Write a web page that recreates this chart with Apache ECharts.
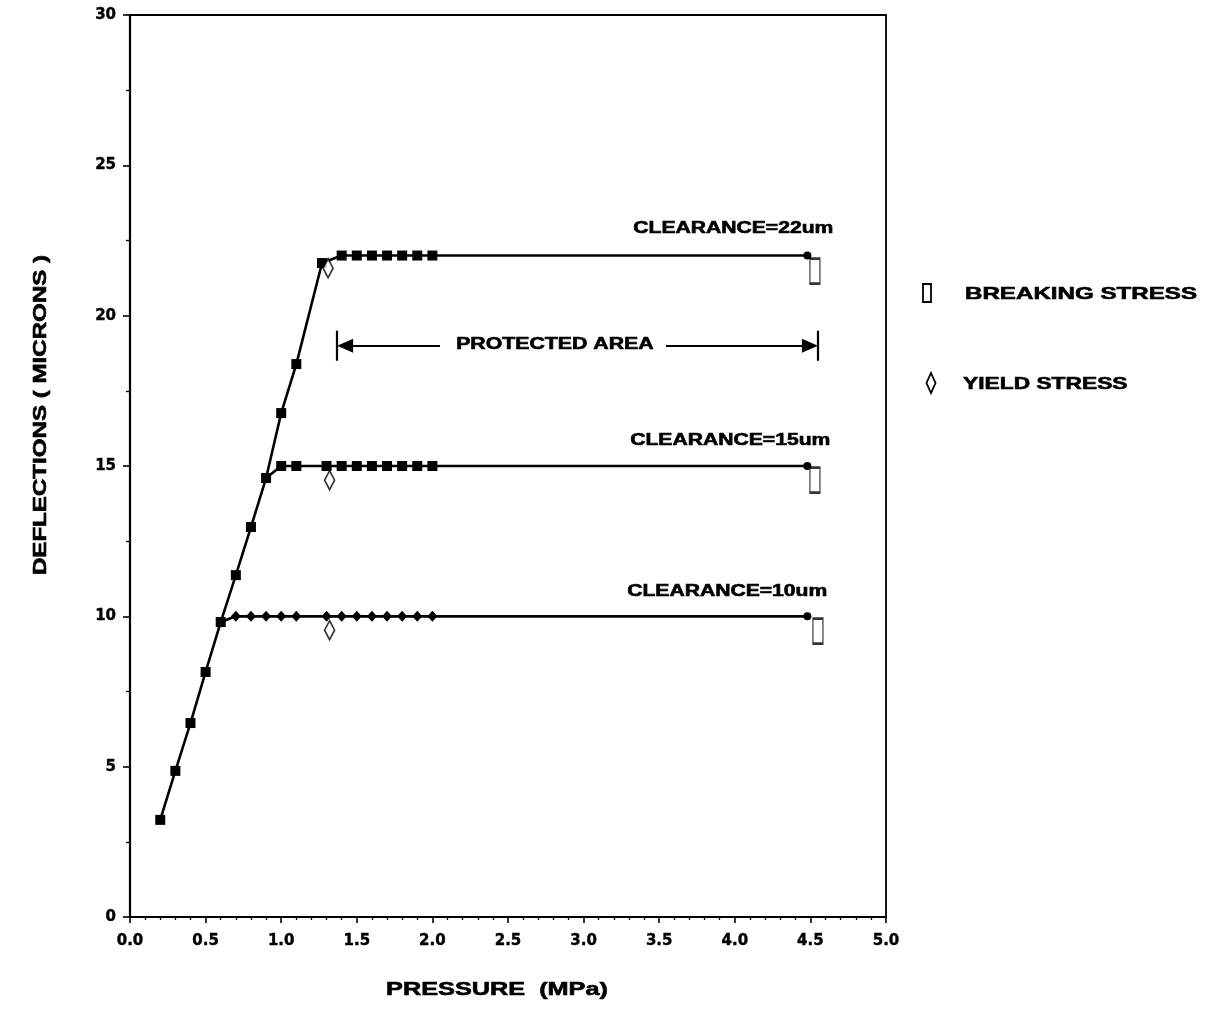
<!DOCTYPE html>
<html>
<head>
<meta charset="utf-8">
<script src="https://cdn.jsdelivr.net/npm/echarts@6/dist/echarts.min.js"></script>
<style>
  html, body { margin: 0; padding: 0; background: #fff; }
  #chart { width: 1223px; height: 1012px; }
</style>
</head>
<body>
<div id="chart"></div>
<script>
// Deflection (microns) against pressure (MPa) for three clearances.
const xTicks = [0, 0.5, 1, 1.5, 2, 2.5, 3, 3.5, 4, 4.5, 5];
const yTicks = [0, 5, 10, 15, 20, 25, 30];

// Common loading ramp, then the 22 um plateau
const clearance22 = [
  [0.2, 3.23], [0.3, 4.86], [0.4, 6.45], [0.5, 8.15], [0.6, 9.81],
  [0.7, 11.37], [0.8, 12.97], [0.9, 14.6], [1.0, 16.76], [1.1, 18.39],
  [1.27, 21.75], [1.4, 22.0], [1.5, 22.0], [1.6, 22.0], [1.7, 22.0],
  [1.8, 22.0], [1.9, 22.0], [2.0, 22.0]
];
const clearance15 = [
  [0.9, 14.6], [1.0, 15.0], [1.1, 15.0], [1.3, 15.0], [1.4, 15.0],
  [1.5, 15.0], [1.6, 15.0], [1.7, 15.0], [1.8, 15.0], [1.9, 15.0], [2.0, 15.0]
];
const clearance10 = [
  [0.6, 9.81], [0.7, 10.0], [0.8, 10.0], [0.9, 10.0], [1.0, 10.0], [1.1, 10.0],
  [1.3, 10.0], [1.4, 10.0], [1.5, 10.0], [1.6, 10.0], [1.7, 10.0],
  [1.8, 10.0], [1.9, 10.0], [2.0, 10.0]
];
// Last measured point on each plateau
const plateauEnds = [[4.48, 22.0], [4.48, 15.0], [4.48, 10.0]];

const yieldStress = [[1.31, 21.58], [1.32, 14.53], [1.32, 9.54]];
const breakingStress = [[4.53, 21.48], [4.53, 14.53], [4.55, 9.51]];

const clearanceLabels = ['CLEARANCE=22um', 'CLEARANCE=15um', 'CLEARANCE=10um'];
const clearanceLabelAt = [[3.99, 22.91], [3.97, 15.83], [3.95, 10.81]];

const protectedLabel = 'PROTECTED AREA';
const protectedSpan = [1.37, 4.55];      // pressure range bounded by the bars
const protectedGap = [2.05, 3.545];      // where the label interrupts the arrow
const protectedLevel = 19.0;
const protectedLabelX = 2.81;

const FONT = '"Liberation Sans", Arial, sans-serif';
const chart = echarts.init(document.getElementById('chart'));

function curve(points, end, markerSymbol, markerSize, skipFirst) {
  const data = points.map((p, i) => (i === 0 && skipFirst)
    ? { value: p, symbol: 'none' }
    : { value: p });
  data.push({ value: end, symbol: 'circle', symbolSize: 8 });
  return {
    type: 'line',
    data: data,
    symbol: markerSymbol,
    symbolSize: markerSize,
    showAllSymbol: true,
    animation: false,
    lineStyle: { color: '#000', width: 2.6 },
    itemStyle: { color: '#000' },
    z: 3
  };
}

const arrowHalf = 8 / 151.2;  // half of the arrowhead length, in MPa

const tickFont = {
  color: '#000', fontSize: 15, fontWeight: 'bold',
  fontFamily: '"DejaVu Sans", sans-serif',
  textBorderColor: '#000', textBorderWidth: 0.4
};

chart.setOption({
  animation: false,
  backgroundColor: '#fff',
  grid: {
    left: 130, right: 337, top: 15, bottom: 95,
    show: true, borderColor: '#000', borderWidth: 1.8, backgroundColor: 'transparent'
  },
  xAxis: {
    type: 'value', min: 0, max: 5, interval: 0.5,
    axisLine: { lineStyle: { color: '#000', width: 2.2 } },
    axisTick: { length: 6, lineStyle: { color: '#000', width: 1.6 } },
    minorTick: { show: true, splitNumber: 5, length: 3, lineStyle: { color: '#000', width: 1.3 } },
    splitLine: { show: false },
    axisLabel: Object.assign({
      margin: 17,
      formatter: v => xTicks.indexOf(v) >= 0 ? v.toFixed(1) : ''
    }, tickFont)
  },
  yAxis: {
    type: 'value', min: 0, max: 30, interval: 5,
    axisLine: { lineStyle: { color: '#000', width: 2.2 } },
    axisTick: { length: 7, lineStyle: { color: '#000', width: 1.6 } },
    minorTick: { show: true, splitNumber: 2, length: 4, lineStyle: { color: '#000', width: 1.3 } },
    splitLine: { show: false },
    axisLabel: Object.assign({
      margin: 14,
      formatter: v => yTicks.indexOf(v) >= 0 ? String(v) : ''
    }, tickFont)
  },
  series: [
    curve(clearance22, plateauEnds[0], 'rect', 10, false),
    curve(clearance15, plateauEnds[1], 'rect', 10, true),
    curve(clearance10, plateauEnds[2], 'diamond', [10, 11], true),
    {
      type: 'scatter',
      data: yieldStress,
      symbol: 'diamond',
      symbolSize: [10, 19],
      itemStyle: { color: '#fff', borderColor: '#000', borderWidth: 1.8 },
      z: 5
    },
    {
      type: 'scatter',
      data: breakingStress,
      symbol: 'rect',
      symbolSize: [10, 25],
      itemStyle: { color: '#fff', borderColor: '#000', borderWidth: 1.8 },
      z: 5,
      markLine: {
        silent: true,
        animation: false,
        symbol: 'none',
        label: { show: false },
        lineStyle: { color: '#000', width: 2.2, type: 'solid' },
        emphasis: { disabled: true },
        data: [
          [
            { coord: [protectedSpan[0] + arrowHalf, protectedLevel], symbol: 'triangle', symbolSize: [14, 16] },
            { coord: [protectedGap[0], protectedLevel], symbol: 'none' }
          ],
          [
            { coord: [protectedGap[1], protectedLevel], symbol: 'none' },
            { coord: [protectedSpan[1] - arrowHalf, protectedLevel], symbol: 'triangle', symbolSize: [14, 16] }
          ],
          [
            { coord: [protectedSpan[0], protectedLevel - 0.5] },
            { coord: [protectedSpan[0], protectedLevel + 0.5] }
          ],
          [
            { coord: [protectedSpan[1], protectedLevel - 0.5] },
            { coord: [protectedSpan[1], protectedLevel + 0.5] }
          ]
        ]
      }
    }
  ]
});

// Wide bold lettering placed from data coordinates
function px(pt) { return chart.convertToPixel({ gridIndex: 0 }, pt); }
function wideText(text, pos, size, sx, align, extra) {
  return Object.assign({
    type: 'text',
    x: pos[0], y: pos[1],
    scaleX: sx,
    silent: true,
    z: 10,
    style: {
      text: text,
      font: 'bold ' + size + 'px ' + FONT,
      fill: '#000',
      stroke: '#000',
      lineWidth: 0.6,
      align: align || 'center',
      verticalAlign: 'middle'
    }
  }, extra || {});
}

const graphics = [];
clearanceLabels.forEach((t, i) => {
  graphics.push(wideText(t, px(clearanceLabelAt[i]), 16, 1.32));
});
graphics.push(wideText(protectedLabel, px([protectedLabelX, protectedLevel + 0.05]), 16, 1.33));

// Axis titles
graphics.push(wideText('PRESSURE  (MPa)', [497, 990], 19, 1.33));
graphics.push(wideText('DEFLECTIONS ( MICRONS )', [41, 415], 18, 1.34, 'center', { rotation: Math.PI / 2 }));

// Key for the stress symbols
graphics.push({
  type: 'rect', silent: true,
  shape: { x: 923, y: 284, width: 8, height: 18 },
  style: { fill: '#fff', stroke: '#000', lineWidth: 1.8 }
});
graphics.push(wideText('BREAKING STRESS', [965, 294], 17, 1.42, 'left'));
graphics.push({
  type: 'polygon', silent: true,
  shape: { points: [[931, 373], [935.5, 383], [931, 393], [926.5, 383]] },
  style: { fill: '#fff', stroke: '#000', lineWidth: 1.8 }
});
graphics.push(wideText('YIELD STRESS', [963, 384], 17, 1.34, 'left'));

chart.setOption({ graphic: graphics });
</script>
</body>
</html>
